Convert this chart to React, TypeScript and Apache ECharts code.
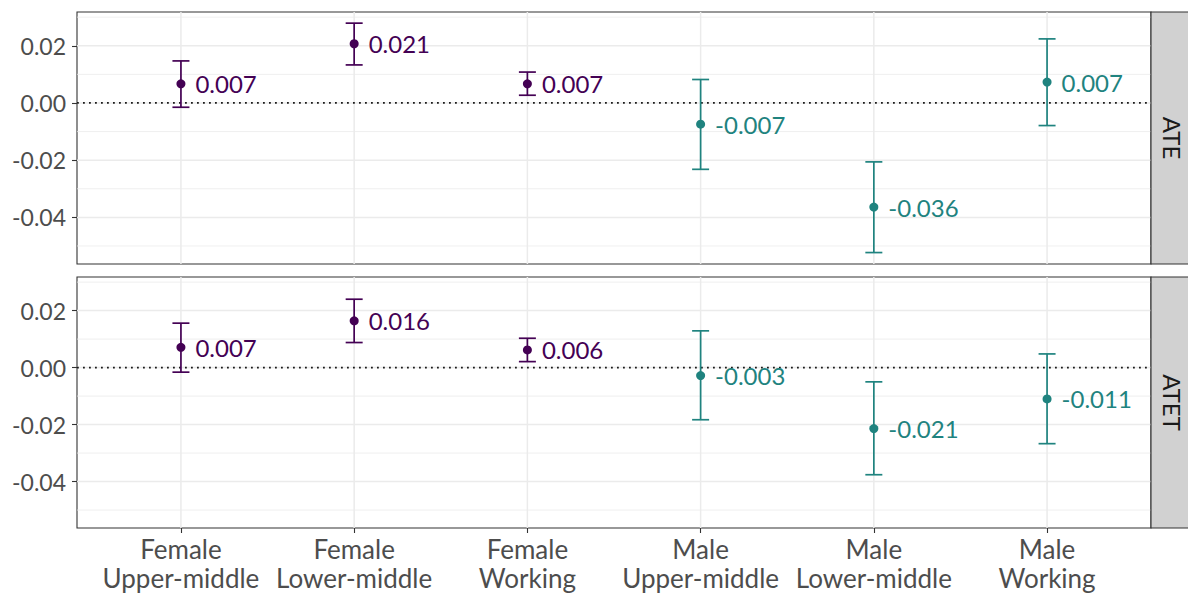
import React, { useEffect, useRef } from "react";
import * as echarts from "echarts";

const categories = [
  "Female\nUpper-middle",
  "Female\nLower-middle",
  "Female\nWorking",
  "Male\nUpper-middle",
  "Male\nLower-middle",
  "Male\nWorking",
];
const sexGroup = ["Female", "Female", "Female", "Male", "Male", "Male"];
const panels = ["ATE", "ATET"];

const ateEst = [0.0067, 0.0207, 0.0067, -0.0074, -0.0364, 0.0073];
const ateLow = [-0.0015, 0.0133, 0.0027, -0.0232, -0.0523, -0.0079];
const ateHigh = [0.0147, 0.0279, 0.0108, 0.0082, -0.0206, 0.0224];

const atetEst = [0.0071, 0.0164, 0.0062, -0.0028, -0.0214, -0.011];
const atetLow = [-0.0016, 0.0088, 0.0021, -0.0183, -0.0376, -0.0267];
const atetHigh = [0.0156, 0.024, 0.0103, 0.0129, -0.005, 0.0048];

const yMajorTicks = [-0.04, -0.02, 0, 0.02];
const yMinorTicks = [-0.05, -0.03, -0.01, 0.01, 0.03];
const xTicks = [0, 1, 2, 3, 4, 5];

const Y_MIN = -0.0563;
const Y_MAX = 0.0318;
const X_MIN = -0.6;
const X_MAX = 5.6;

const colorOf: Record<string, string> = { Female: "#440154", Male: "#1f837f" };
const FONT = "Lato";

export default function App() {
  const ref = useRef<HTMLDivElement>(null);

  useEffect(() => {
    if (!ref.current) return;
    const chart = echarts.init(ref.current, undefined, { renderer: "svg" });

    const grids = [
      { left: 77, top: 12, width: 1074, height: 252 },
      { left: 77, top: 277, width: 1074, height: 251 },
    ].map((g) => ({
      ...g,
      show: true,
      borderColor: "#333333",
      borderWidth: 1.1,
      backgroundColor: "#ffffff",
      containLabel: false,
    }));

    const xAxes = [0, 1].map((i) => ({
      type: "value",
      gridIndex: i,
      position: "bottom",
      min: X_MIN,
      max: X_MAX,
      axisLine: { show: false, onZero: false },
      splitLine: { show: false },
      axisTick: {
        show: i === 1,
        customValues: xTicks,
        length: 5,
        lineStyle: { color: "#333333", width: 1.1 },
      },
      axisLabel: {
        show: i === 1,
        customValues: xTicks,
        formatter: (v: number) => categories[Math.round(v)] ?? "",
        color: "#4d4d4d",
        fontFamily: FONT,
        fontSize: 26,
        lineHeight: 29,
        margin: 6,
      },
    }));

    const yAxes = [0, 1].map((i) => ({
      type: "value",
      gridIndex: i,
      position: "left",
      min: Y_MIN,
      max: Y_MAX,
      axisLine: { show: false, onZero: false },
      splitLine: { show: false },
      axisTick: {
        show: true,
        customValues: yMajorTicks,
        length: 5,
        lineStyle: { color: "#333333", width: 1.1 },
      },
      axisLabel: {
        customValues: yMajorTicks,
        formatter: (v: number) => v.toFixed(2),
        color: "#4d4d4d",
        fontFamily: FONT,
        fontSize: 23,
        margin: 11,
      },
    }));

    const series: any[] = [];
    const panelData = [
      { est: ateEst, low: ateLow, high: ateHigh },
      { est: atetEst, low: atetLow, high: atetHigh },
    ];

    panelData.forEach((pd, pi) => {
      const hLines = (ticks: number[], width: number, z: number) => ({
        type: "custom",
        xAxisIndex: pi,
        yAxisIndex: pi,
        silent: true,
        z,
        data: ticks.map((t) => [X_MIN, t]),
        encode: { x: 0, y: 1 },
        renderItem: (params: any, api: any) => {
          const cs = params.coordSys;
          const y = api.coord([0, api.value(1)])[1];
          return {
            type: "line",
            shape: { x1: cs.x, y1: y, x2: cs.x + cs.width, y2: y },
            style: { stroke: "#ebebeb", lineWidth: width },
          };
        },
      });
      series.push(hLines(yMinorTicks, 0.8, 1));
      series.push(hLines(yMajorTicks, 1.5, 1));
      series.push({
        type: "custom",
        xAxisIndex: pi,
        yAxisIndex: pi,
        silent: true,
        z: 1,
        data: xTicks.map((t) => [t, Y_MIN]),
        encode: { x: 0, y: 1 },
        renderItem: (params: any, api: any) => {
          const cs = params.coordSys;
          const x = api.coord([api.value(0), 0])[0];
          return {
            type: "line",
            shape: { x1: x, y1: cs.y, x2: x, y2: cs.y + cs.height },
            style: { stroke: "#ebebeb", lineWidth: 1.5 },
          };
        },
      });
      series.push({
        type: "custom",
        xAxisIndex: pi,
        yAxisIndex: pi,
        silent: true,
        z: 2,
        data: [[X_MIN, 0]],
        encode: { x: 0, y: 1 },
        renderItem: (params: any, api: any) => {
          const cs = params.coordSys;
          const y = api.coord([0, api.value(1)])[1];
          return {
            type: "line",
            shape: { x1: cs.x, y1: y, x2: cs.x + cs.width, y2: y },
            style: { stroke: "#1a1a1a", lineWidth: 1.7, lineDash: [1.8, 4.2] },
          };
        },
      });
      series.push({
        type: "custom",
        xAxisIndex: pi,
        yAxisIndex: pi,
        z: 3,
        data: xTicks.map((i) => [i, pd.low[i], pd.high[i]]),
        encode: { x: 0, y: [1, 2] },
        renderItem: (params: any, api: any) => {
          const idx = api.value(0);
          const lo = api.coord([idx, api.value(1)]);
          const hi = api.coord([idx, api.value(2)]);
          const color = colorOf[sexGroup[params.dataIndex]];
          const half = 8.5;
          const style = { stroke: color, lineWidth: 1.7 };
          return {
            type: "group",
            children: [
              { type: "line", shape: { x1: lo[0], y1: lo[1], x2: hi[0], y2: hi[1] }, style },
              { type: "line", shape: { x1: hi[0] - half, y1: hi[1], x2: hi[0] + half, y2: hi[1] }, style },
              { type: "line", shape: { x1: lo[0] - half, y1: lo[1], x2: lo[0] + half, y2: lo[1] }, style },
            ],
          };
        },
      });
      series.push({
        type: "scatter",
        xAxisIndex: pi,
        yAxisIndex: pi,
        z: 4,
        symbol: "circle",
        symbolSize: 9,
        itemStyle: { opacity: 1 },
        data: xTicks.map((i) => ({
          value: [i, pd.est[i]],
          itemStyle: { color: colorOf[sexGroup[i]], opacity: 1 },
          label: { color: colorOf[sexGroup[i]] },
        })),
        label: {
          show: true,
          position: "right",
          distance: 10,
          fontFamily: FONT,
          fontSize: 24,
          formatter: (p: any) => p.value[1].toFixed(3),
        },
      });
    });

    const stripGraphics: any[] = [];
    grids.forEach((g, i) => {
      const x = g.left + g.width;
      stripGraphics.push({
        type: "rect",
        shape: { x, y: g.top, width: 45, height: g.height },
        style: { fill: "#d1d1d1", stroke: "#333333", lineWidth: 1.1 },
        z: 10,
      });
      stripGraphics.push({
        type: "text",
        x: x + 21,
        y: g.top + g.height / 2,
        rotation: -Math.PI / 2,
        style: {
          text: panels[i],
          fill: "#1a1a1a",
          fontFamily: FONT,
          fontSize: 24,
          align: "center",
          verticalAlign: "middle",
        },
        z: 11,
      });
    });

    chart.setOption({
      animation: false,
      backgroundColor: "#ffffff",
      textStyle: { fontFamily: FONT },
      grid: grids,
      xAxis: xAxes,
      yAxis: yAxes,
      series,
      graphic: stripGraphics,
    });

    return () => chart.dispose();
  }, []);

  return (
    <div
      ref={ref}
      style={{ position: "absolute", left: 0, top: 0, width: 1188, height: 593 }}
    />
  );
}
